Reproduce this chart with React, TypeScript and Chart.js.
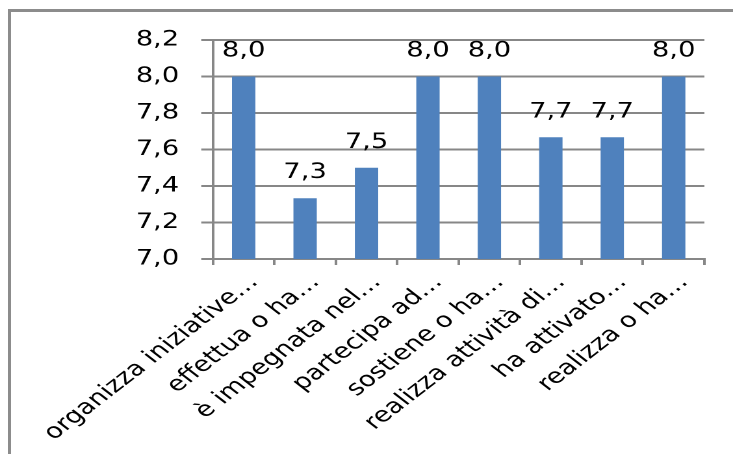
import React, { useEffect, useRef } from "react";
import { Chart, registerables } from "chart.js";

Chart.register(...registerables);

const categories: string[] = [
  "organizza iniziative…",
  "effettua o ha…",
  "è impegnata nel…",
  "partecipa ad…",
  "sostiene o ha…",
  "realizza attività di…",
  "ha attivato…",
  "realizza o ha…",
];
const values: number[] = [8.0, 7.333, 7.5, 8.0, 8.0, 7.667, 7.667, 8.0];
const yTicks: number[] = [7.0, 7.2, 7.4, 7.6, 7.8, 8.0, 8.2];

const STRETCH = 1.3;
const OUT_W = 733;
const OUT_H = 454;
const IN_W = Math.round(OUT_W / STRETCH);

const BAR = "#4F81BD";
const GRID = "#878787";
const TEXT = "#000000";
const FONT = "'DejaVu Sans', 'Liberation Sans', sans-serif";

const fmt = (v: number) => v.toFixed(1).replace(".", ",");

const dataLabels = {
  id: "dataLabels",
  afterDatasetsDraw(chart: any) {
    const ctx = chart.ctx;
    const meta = chart.getDatasetMeta(0);
    ctx.save();
    ctx.font = `21px ${FONT}`;
    ctx.fillStyle = TEXT;
    ctx.textAlign = "center";
    ctx.textBaseline = "alphabetic";
    meta.data.forEach((el: any, i: number) => {
      ctx.fillText(fmt(values[i]), el.x, el.y - 20);
    });
    ctx.restore();
  },
};

export default function App() {
  const ref = useRef<HTMLCanvasElement | null>(null);

  useEffect(() => {
    if (!ref.current) return;
    const chart = new Chart(ref.current, {
      type: "bar",
      data: {
        labels: categories,
        datasets: [
          {
            data: values,
            backgroundColor: BAR,
            borderWidth: 0,
            categoryPercentage: 1,
            barPercentage: 0.38,
          },
        ],
      },
      options: {
        responsive: false,
        animation: false,
        devicePixelRatio: 2,
        layout: { padding: { top: 40, right: 22, left: 0, bottom: 0 } },
        plugins: {
          legend: { display: false },
          tooltip: { enabled: false },
          title: { display: false },
        },
        scales: {
          x: {
            afterFit: (axis: any) => {
              axis.height = OUT_H - 259;
            },
            grid: {
              display: true,
              drawOnChartArea: false,
              drawTicks: true,
              tickLength: 6,
              color: GRID,
              lineWidth: 2,
            },
            border: { display: true, color: GRID, width: 2 },
            ticks: {
              autoSkip: false,
              minRotation: 45,
              maxRotation: 45,
              padding: 5,
              labelOffset: 8,
              color: TEXT,
              font: { family: FONT, size: 21 },
            },
          },
          y: {
            min: 7.0,
            max: 8.2,
            afterFit: (axis: any) => {
              axis.width = 213 / STRETCH;
            },
            afterBuildTicks: (axis: any) => {
              axis.ticks = yTicks.map((v) => ({ value: v }));
            },
            grid: {
              color: GRID,
              lineWidth: 2,
              drawTicks: true,
              tickLength: 9,
            },
            border: { display: true, color: GRID, width: 2 },
            ticks: {
              padding: 17,
              color: TEXT,
              font: { family: FONT, size: 21 },
              callback: (v: any) => fmt(Number(v)),
            },
          },
        },
      },
      plugins: [dataLabels],
    });
    return () => chart.destroy();
  }, []);

  return (
    <div
      style={{
        position: "fixed",
        left: 0,
        top: 0,
        width: OUT_W,
        height: OUT_H,
        overflow: "hidden",
        background: "#ffffff",
      }}
    >
      <canvas
        ref={ref}
        width={IN_W}
        height={OUT_H}
        style={{ position: "absolute", left: 0, top: 0, width: OUT_W, height: OUT_H }}
      />
      <div
        style={{
          position: "absolute",
          left: 8,
          top: 9,
          width: 900,
          height: 700,
          border: `3px solid #8c8c8c`,
          pointerEvents: "none",
        }}
      />
    </div>
  );
}
